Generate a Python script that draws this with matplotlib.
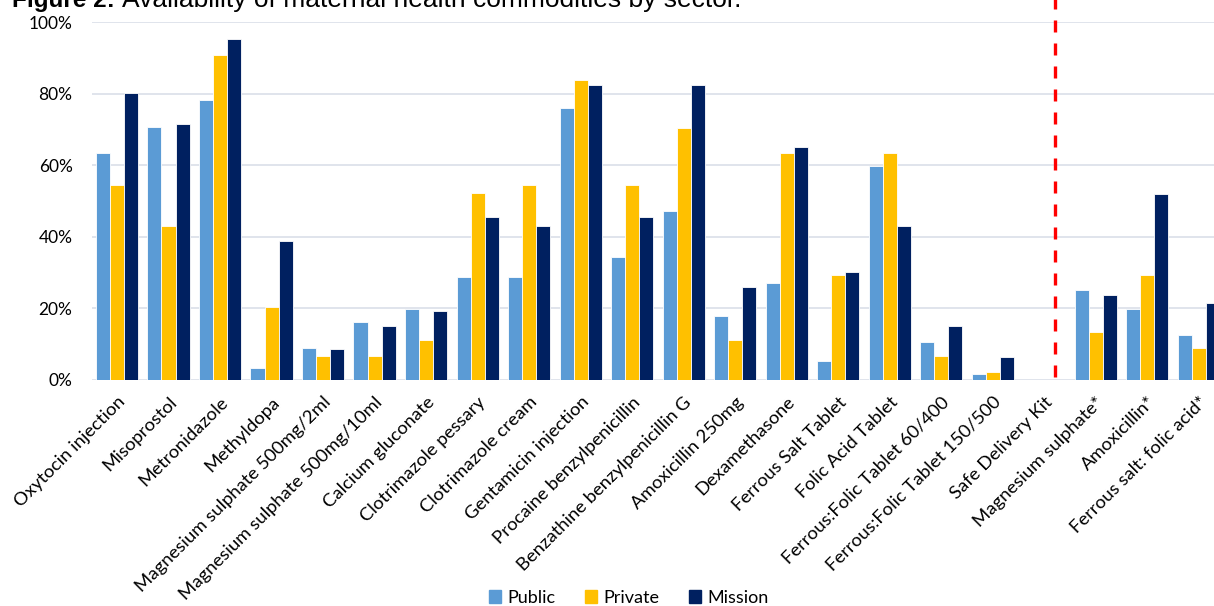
import numpy as np
import matplotlib
matplotlib.use("Agg")
import matplotlib.pyplot as plt
from matplotlib.patches import Patch

plt.rcParams['font.family'] = ['Lato', 'DejaVu Sans']

categories = ["Oxytocin injection", "Misoprostol", "Metronidazole", "Methyldopa",
              "Magnesium sulphate 500mg/2ml", "Magnesium sulphate 500mg/10ml",
              "Calcium gluconate", "Clotrimazole pessary", "Clotrimazole cream",
              "Gentamicin injection", "Procaine benzylpenicillin",
              "Benzathine benzylpenicillin G", "Amoxicillin 250mg", "Dexamethasone",
              "Ferrous Salt Tablet", "Folic Acid Tablet", "Ferrous:Folic Tablet 60/400",
              "Ferrous:Folic Tablet 150/500", "Safe Delivery Kit",
              "Magnesium sulphate*", "Amoxicillin*", "Ferrous salt: folic acid*"]

public = [63.5, 70.8, 78.2, 3.4, 8.9, 16.1, 19.9, 28.9, 28.9, 76.2, 34.4,
          47.2, 18.0, 27.0, 5.3, 59.9, 10.6, 1.6, 0, 25.3, 19.9, 12.6]
private = [54.5, 43.1, 90.9, 20.3, 6.6, 6.6, 11.2, 52.2, 54.5, 84.0, 54.5,
           70.4, 11.2, 63.6, 29.4, 63.6, 6.6, 2.1, 0, 13.4, 29.4, 8.9]
mission = [80.3, 71.6, 95.5, 39.0, 8.6, 15.0, 19.4, 45.5, 43.2, 82.4, 45.5,
           82.4, 25.9, 65.1, 30.2, 43.2, 15.0, 6.3, 0, 23.7, 52.1, 21.5]

series = [("Public", public, "#5B9BD5"),
          ("Private", private, "#FFC000"),
          ("Mission", mission, "#002060")]

fig = plt.figure(figsize=(12.14, 6.06), dpi=100)
ax = fig.add_axes([0.0758, 0.373, 0.9242, 0.590])

x = np.arange(len(categories))
step = 0.272
for i, (name, vals, col) in enumerate(series):
    ax.bar(x + (i - 1) * step, np.array(vals) / 100, width=step,
           color=col, edgecolor="white", linewidth=0.6, label=name, zorder=3)

ax.set_ylim(0, 1.0)
ax.set_xlim(-0.485, 21.3)
ax.set_yticks(np.arange(0, 1.01, 0.2))
ax.set_yticklabels([f"{int(v * 100)}%" for v in np.arange(0, 1.01, 0.2)], fontsize=12.5)
ax.yaxis.grid(True, color="#DDE2EA", linewidth=1.3, zorder=0)
ax.set_axisbelow(True)
for s in ax.spines.values():
    s.set_visible(False)
ax.tick_params(axis="both", length=0)
ax.tick_params(axis="y", pad=14)

ax.set_xticks(x)
ax.set_xticklabels(categories, rotation=45, ha="right", va="top",
                   rotation_mode="anchor", fontsize=13.3)
ax.tick_params(axis="x", pad=10)

# red dashed separator
ln, = ax.plot([18.21, 18.21], [0.008, 1.07], color="#FF0000", linewidth=2.4,
              clip_on=False, zorder=4)
ln.set_dashes((3.6, 3.3))

handles = [Patch(color=c, label=n) for n, _, c in series]
fig.legend(handles=handles, loc="center", bbox_to_anchor=(0.518, 0.014),
           ncol=3, frameon=False, fontsize=13, handlelength=0.7,
           handleheight=0.7, handletextpad=0.35, columnspacing=1.6)

fig.text(12 / 1214, 1 - 6.5 / 606, "Figure 2:", fontsize=17.5, fontweight="bold",
         family="Liberation Sans", va="baseline", ha="left")
fig.text(122 / 1214, 1 - 6.5 / 606, "Availability of maternal health commodities by sector.",
         fontsize=19, family="Liberation Sans", va="baseline", ha="left")

fig.savefig("out.png", dpi=100)
